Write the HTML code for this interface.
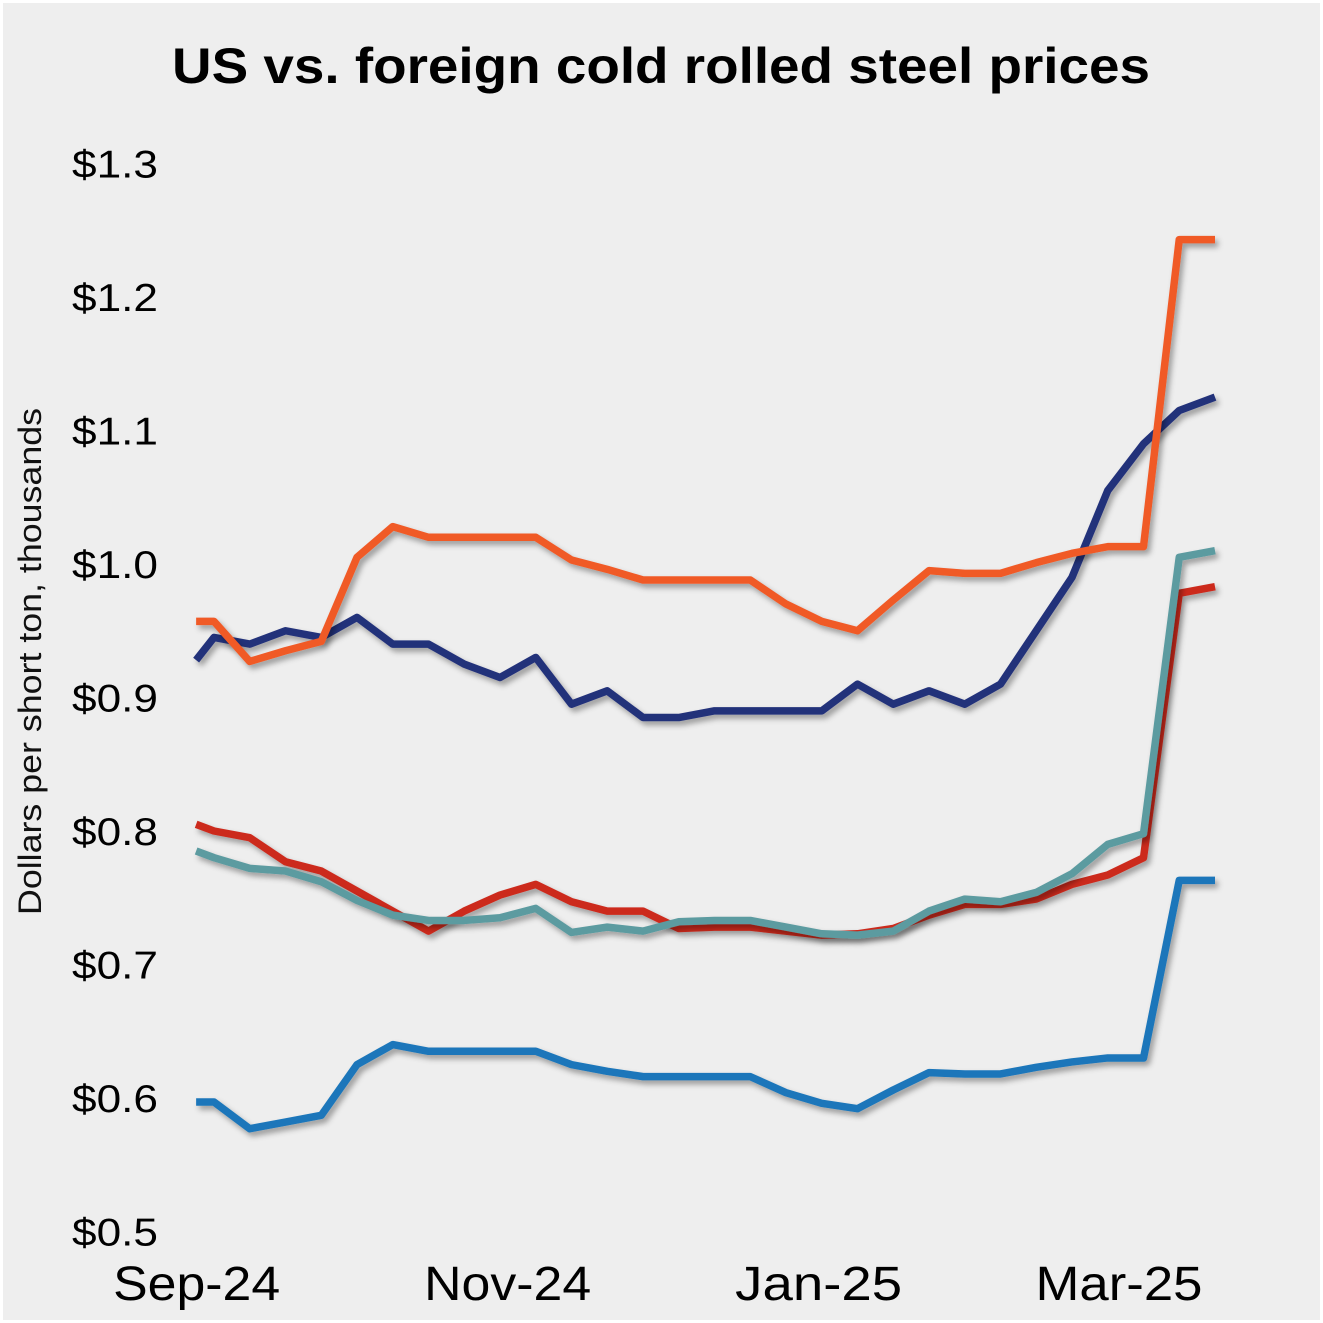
<!DOCTYPE html>
<html><head><meta charset="utf-8"><style>
html,body{margin:0;padding:0;background:#fff}
svg{display:block}
text{font-family:"Liberation Sans",sans-serif}
</style></head><body>
<svg id="chart" width="1323" height="1323" viewBox="0 0 1323 1323" xmlns="http://www.w3.org/2000/svg">
<defs><filter id="sh" x="-5%" y="-5%" width="110%" height="120%"><feDropShadow dx="3" dy="4" stdDeviation="3" flood-color="#000" flood-opacity="0.35"/></filter></defs>
<rect x="3" y="3" width="1317" height="1317" fill="#eeeeee"/>
<text x="172" y="83" font-size="50" font-weight="bold" fill="#000" textLength="978" lengthAdjust="spacingAndGlyphs">US vs. foreign cold rolled steel prices</text>
<text transform="translate(41,915) rotate(-90)" font-size="32" fill="#111" textLength="507" lengthAdjust="spacingAndGlyphs">Dollars per short ton, thousands</text>
<g id="yticks"></g><g id="xticks"></g><g id="lines"></g>
</svg>
<script>
const weeks=[-0.5,0,1,2,3,4,5,6,7,8,9,10,11,12,13,14,15,16,17,18,19,20,21,22,23,24,25,26,27,28];
const yTicks=[0.5,0.6,0.7,0.8,0.9,1.0,1.1,1.2,1.3];
const xTickLabels=["Sep-24","Nov-24","Jan-25","Mar-25"];
const xTickWeeks=[-0.5,8.2,16.9,25.3];
const orange=[0.957,0.957,0.927,0.935,0.942,1.005,1.028,1.020,1.020,1.020,1.020,1.003,0.996,0.988,0.988,0.988,0.988,0.970,0.957,0.950,0.973,0.995,0.993,0.993,1.001,1.008,1.013,1.013,1.243,1.243];
const navy=[0.928,0.945,0.940,0.950,0.945,0.960,0.940,0.940,0.925,0.915,0.930,0.895,0.905,0.885,0.885,0.890,0.890,0.890,0.890,0.910,0.895,0.905,0.895,0.910,0.950,0.990,1.055,1.090,1.115,1.125];
const red=[0.805,0.800,0.795,0.777,0.770,0.755,0.740,0.725,0.740,0.752,0.760,0.747,0.740,0.740,0.727,0.728,0.728,0.725,0.722,0.723,0.727,0.737,0.745,0.745,0.749,0.760,0.767,0.780,0.978,0.983];
const teal=[0.785,0.780,0.772,0.770,0.762,0.748,0.737,0.733,0.733,0.735,0.742,0.724,0.728,0.725,0.732,0.733,0.733,0.728,0.723,0.722,0.725,0.740,0.749,0.747,0.754,0.768,0.790,0.798,1.005,1.010];
const blue=[0.597,0.597,0.577,0.582,0.587,0.625,0.640,0.635,0.635,0.635,0.635,0.625,0.620,0.616,0.616,0.616,0.616,0.604,0.596,0.592,0.606,0.619,0.618,0.618,0.623,0.627,0.630,0.630,0.763,0.763];
const xs=w=>214+w*35.75;
const ys=v=>564-(v-1.0)*1335;
const NS="http://www.w3.org/2000/svg";
const yg=document.getElementById('yticks');
yTicks.forEach(v=>{const t=document.createElementNS(NS,'text');


t.setAttribute('x',72);t.setAttribute('y',ys(v)+14);t.setAttribute('font-size','39');t.setAttribute('fill','#000');
t.setAttribute('textLength','86');t.setAttribute('lengthAdjust','spacingAndGlyphs');
t.textContent='$'+v.toFixed(1);yg.appendChild(t);});
const xg=document.getElementById('xticks');
xTickLabels.forEach((l,i)=>{const t=document.createElementNS(NS,'text');


t.setAttribute('x',xs(xTickWeeks[i])-83);t.setAttribute('y',1300);t.setAttribute('font-size','48');t.setAttribute('fill','#000');
t.setAttribute('textLength','167');t.setAttribute('lengthAdjust','spacingAndGlyphs');
t.textContent=l;xg.appendChild(t);});
const lg=document.getElementById('lines');
[[red,'#cc2a1e','series-red'],[teal,'#5c9ba0','series-teal'],[blue,'#1a76ba','series-blue'],[navy,'#24307a','series-navy'],[orange,'#f05a28','series-orange']].forEach(([d,c,n])=>{
const p=document.createElementNS(NS,'polyline');


p.setAttribute('points',d.map((v,i)=>xs(weeks[i])+','+ys(v)).join(' '));
p.setAttribute('fill','none');p.setAttribute('stroke',c);p.setAttribute('stroke-width','7.5');p.setAttribute('stroke-linejoin','round');p.setAttribute('filter','url(#sh)');
lg.appendChild(p);});
</script>
</body></html>
